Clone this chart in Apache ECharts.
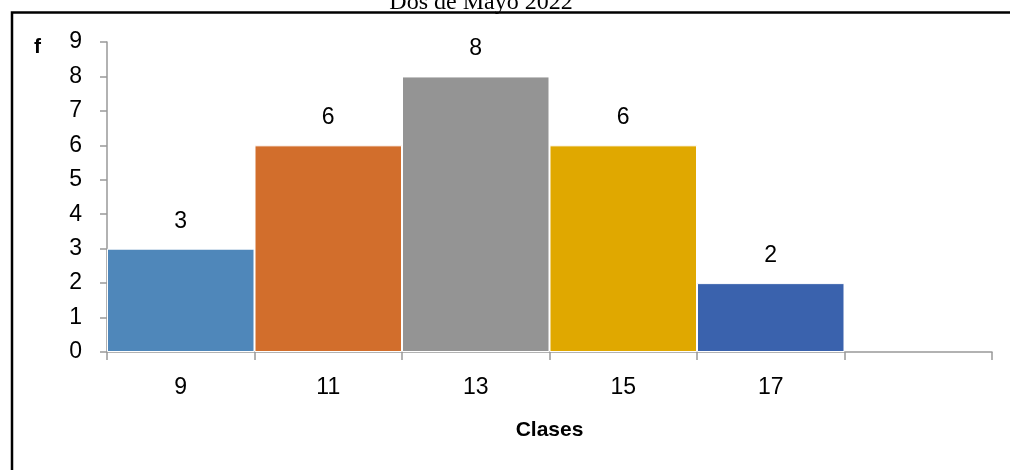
<!DOCTYPE html>
<html>
<head>
<meta charset="utf-8">
<script src="https://cdn.jsdelivr.net/npm/echarts@6/dist/echarts.min.js"></script>
<style>
  html, body { margin: 0; padding: 0; background: #fff; }
  #chart { width: 1010px; height: 470px; }
</style>
</head>
<body>
<div id="chart"></div>
<script>
// datos del histograma
var clases = ['9', '11', '13', '15', '17', ''];
var frecuencias = [3, 6, 8, 6, 2, '-'];
var colores = ['#4f87ba', '#d26e2c', '#949494', '#e0a800', '#3a62ad', '#ffffff'];
var yTicks = [0, 9, 1]; // min, max, intervalo

var chart = echarts.init(document.getElementById('chart'));

var dataArr = new Array();
for (var i = 0; i < frecuencias.length; i++) {
	dataArr.push({ value: frecuencias[i], itemStyle: { color: colores[i] } });
}

var fuente = 'Liberation Sans';

var option = {
	animation: false,
	graphic: [
		{
			type: 'rect',
			shape: { x: 12, y: 12.5, width: 1020, height: 480 },
			style: { fill: 'none', stroke: '#000', lineWidth: 2.5 }
		},
		{
			type: 'text',
			x: 481,
			y: -9,
			style: { text: 'Dos de Mayo 2022', font: '24px "Liberation Serif"', fill: '#000', align: 'center' }
		},
		{
			type: 'text',
			x: 34,
			y: 37,
			style: { text: 'f', font: 'bold 21px "Liberation Sans"', fill: '#000' }
		}
	],
	grid: { left: 107, right: 18, top: 42, bottom: 118 },
	xAxis: {
		type: 'category',
		data: clases,
		boundaryGap: true,
		name: 'Clases',
		nameLocation: 'middle',
		nameGap: 68,
		nameTextStyle: { fontFamily: fuente, fontSize: 21, fontWeight: 'bold', color: '#000' },
		axisLine: { lineStyle: { color: '#999', width: 1.5 } },
		axisTick: { show: true, interval: 0, length: 8, lineStyle: { color: '#999', width: 1.5 } },
		axisLabel: { fontFamily: fuente, fontSize: 23, color: '#000', margin: 24 }
	},
	yAxis: {
		type: 'value',
		min: yTicks[0],
		max: yTicks[1],
		interval: yTicks[2],
		splitLine: { show: false },
		axisLine: { show: true, lineStyle: { color: '#999', width: 1.5 } },
		axisTick: { show: true, length: 7, lineStyle: { color: '#999', width: 1.5 } },
		axisLabel: { fontFamily: fuente, fontSize: 23, color: '#000', margin: 25 }
	},
	series: [
		{
			type: 'bar',
			data: dataArr,
			barWidth: '100%',
			itemStyle: { borderColor: '#fff', borderWidth: 1 },
			label: {
				show: true,
				position: 'top',
				distance: 16,
				fontFamily: fuente,
				fontSize: 23,
				color: '#000'
			}
		}
	]
};

chart.setOption(option);
</script>
</body>
</html>
